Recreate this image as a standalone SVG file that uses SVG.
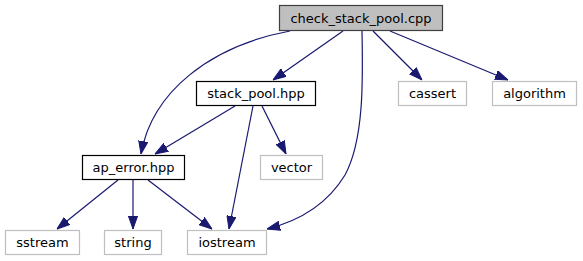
<svg xmlns="http://www.w3.org/2000/svg" width="583" height="261" viewBox="0 0 583 261">
  <style>
    .box { fill: #ffffff; stroke: #000000; stroke-width: 1.2; }
    .root { fill: #bfbfbf; stroke: #404040; stroke-width: 1.2; }
    .ext { fill: #ffffff; stroke: #bfbfbf; stroke-width: 1.2; }
    .lbl { font-family: "DejaVu Sans", sans-serif; font-size: 13px; fill: #000000; text-anchor: middle; }
    .edge { fill: none; stroke: #191970; stroke-width: 1.2; marker-end: url(#arrow); }
  </style>
  <defs>
    <marker id="arrow" markerUnits="userSpaceOnUse" markerWidth="13" markerHeight="10" refX="13" refY="5" orient="auto">
      <path d="M0,0.4 L13,5 L0,9.6 z" fill="#191970" stroke="#191970" stroke-width="1"/>
    </marker>
  </defs>
  <rect width="583" height="261" fill="#ffffff"/>

  <g id="edges">
    <path class="edge" d="M290,31 C210,46 152,92 141,154"/>
    <path class="edge" d="M343,31 L273,80"/>
    <path class="edge" d="M362,31 C363,80 364,140 345,175 C325,208 295,222 267,229"/>
    <path class="edge" d="M373,31 L422,80"/>
    <path class="edge" d="M390,31 L508,80"/>
    <path class="edge" d="M235,106 L155,154"/>
    <path class="edge" d="M253,106 L229,229"/>
    <path class="edge" d="M262,106 L286,154"/>
    <path class="edge" d="M118,180 L57,229"/>
    <path class="edge" d="M133,180 L133,229"/>
    <path class="edge" d="M148,180 L212,229"/>
  </g>

  <g id="check_stack_pool_cpp">
    <rect class="root" x="279.5" y="5.5" width="163" height="25"/>
    <text class="lbl" x="361" y="22.5">check_stack_pool.cpp</text>
  </g>
  <g id="stack_pool_hpp">
    <rect class="box" x="196.5" y="81.5" width="119" height="24"/>
    <text class="lbl" x="256" y="98">stack_pool.hpp</text>
  </g>
  <g id="cassert">
    <rect class="ext" x="398.5" y="81.5" width="68" height="24"/>
    <text class="lbl" x="432.5" y="98">cassert</text>
  </g>
  <g id="algorithm">
    <rect class="ext" x="492.5" y="81.5" width="84" height="24"/>
    <text class="lbl" x="534.5" y="98">algorithm</text>
  </g>
  <g id="ap_error_hpp">
    <rect class="box" x="82.5" y="155.5" width="102" height="24"/>
    <text class="lbl" x="133.5" y="172">ap_error.hpp</text>
  </g>
  <g id="vector">
    <rect class="ext" x="260.5" y="155.5" width="62" height="24"/>
    <text class="lbl" x="291.5" y="172">vector</text>
  </g>
  <g id="sstream">
    <rect class="ext" x="5.5" y="230.5" width="74" height="24"/>
    <text class="lbl" x="42.5" y="247">sstream</text>
  </g>
  <g id="string">
    <rect class="ext" x="104.5" y="230.5" width="57" height="24"/>
    <text class="lbl" x="133" y="247">string</text>
  </g>
  <g id="iostream">
    <rect class="ext" x="187.5" y="230.5" width="79" height="24"/>
    <text class="lbl" x="227" y="247">iostream</text>
  </g>
</svg>
